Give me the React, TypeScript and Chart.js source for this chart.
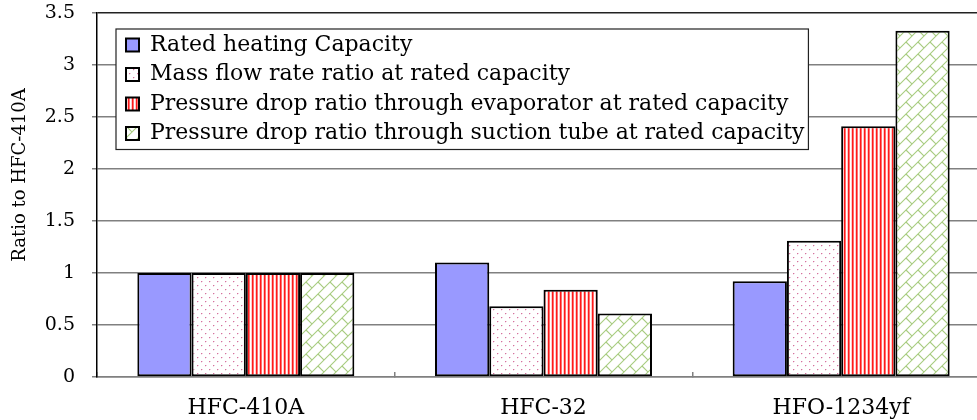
import React, { useEffect, useRef } from 'react';
import { Chart, registerables } from 'chart.js';

Chart.register(...registerables);

const categories = ['HFC-410A', 'HFC-32', 'HFO-1234yf'];
const seriesNames = [
  'Rated heating Capacity',
  'Mass flow rate ratio at rated capacity',
  'Pressure drop ratio through evaporator at rated capacity',
  'Pressure drop ratio through suction tube at rated capacity',
];
const ratedHeatingCapacity = [1.0, 1.1, 0.92];
const massFlowRatio = [1.0, 0.68, 1.31];
const evaporatorPressureDrop = [1.0, 0.84, 2.41];
const suctionTubePressureDrop = [1.0, 0.61, 3.33];
const yTicks = [0, 0.5, 1, 1.5, 2, 2.5, 3, 3.5];
const yAxisTitle = 'Ratio to HFC-410A';

const FONT = '"DejaVu Serif", serif';

function makeTile(w: number, h: number, paint: (c: CanvasRenderingContext2D) => void) {
  const cv = document.createElement('canvas');
  cv.width = w;
  cv.height = h;
  const c = cv.getContext('2d')!;
  c.fillStyle = '#ffffff';
  c.fillRect(0, 0, w, h);
  paint(c);
  return c.createPattern(cv, 'repeat')!;
}

function makePatterns() {
  const dots = makeTile(8, 8, (c) => {
    const put = (x: number, y: number, col: string) => {
      c.fillStyle = col;
      c.fillRect(x, y, 1, 1);
    };
    put(1, 1, '#d4729e');
    put(2, 1, '#f2d0df');
    put(1, 2, '#f6e0ea');
    put(5, 5, '#d4729e');
    put(6, 5, '#f2d0df');
    put(5, 6, '#f6e0ea');
  });
  const stripes = makeTile(4, 4, (c) => {
    const cols = ['#ff1a1a', '#ff7070', '#ffffff', '#ffc8c8'];
    cols.forEach((col, i) => {
      c.fillStyle = col;
      c.fillRect(i, 0, 1, 4);
    });
  });
  const brick = makeTile(12, 12, (c) => {
    c.strokeStyle = '#a8cc80';
    c.lineWidth = 1.1;
    c.beginPath();
    c.moveTo(-1, 13);
    c.lineTo(13, -1);
    c.moveTo(-1, 1);
    c.lineTo(1, -1);
    c.moveTo(11, 13);
    c.lineTo(13, 11);
    c.moveTo(6, 6);
    c.lineTo(12, 12);
    c.moveTo(-6, -6);
    c.lineTo(0, 0);
    c.stroke();
  });
  return { dots, stripes, brick };
}

const legendFramePlugin = {
  id: 'legendFrame',
  afterLayout(chart: any) {
    const lg = chart.legend;
    const ca = chart.chartArea;
    if (!lg) return;
    const lo = lg.options.labels;
    const pad = lo.padding;
    const itemH = Math.max(lo.font.size, lo.boxHeight);
    lg.left = ca.left + 29 - pad;
    lg.top = ca.top + 32 - itemH / 2 - pad;
    lg.right = ca.right;
    lg.bottom = ca.bottom;
  },
  beforeDatasetsDraw(chart: any) {
    const lg = chart.legend;
    if (!lg) return;
    const ctx = chart.ctx;
    const lo = lg.options.labels;
    const fs = lo.font.size;
    const pad = lo.padding;
    const itemH = Math.max(fs, lo.boxHeight);
    ctx.save();
    ctx.font = `${fs}px ${FONT}`;
    let maxW = 0;
    chart.data.datasets.forEach((d: any) => {
      maxW = Math.max(maxW, ctx.measureText(d.label).width);
    });
    const itemX = lg.left + pad;
    const x0 = itemX - 10;
    const x1 = itemX + lo.boxWidth + fs / 2 + maxW + 4;
    const firstC = lg.top + pad + itemH / 2;
    const n = chart.data.datasets.length;
    const lastC = firstC + (n - 1) * (itemH + pad);
    const y0 = firstC - 16;
    const y1 = lastC + 16;
    ctx.fillStyle = '#ffffff';
    ctx.fillRect(x0, y0, x1 - x0, y1 - y0);
    ctx.strokeStyle = '#222';
    ctx.lineWidth = 1.2;
    ctx.strokeRect(x0, y0, x1 - x0, y1 - y0);
    ctx.restore();
    lg.draw();
  },
};

export default function App() {
  const ref = useRef<HTMLCanvasElement>(null);
  useEffect(() => {
    document.body.style.margin = '0';
    document.body.style.overflow = 'hidden';
    const p = makePatterns();
    const fills = ['#9999ff', p.dots, p.stripes, p.brick];
    const values = [ratedHeatingCapacity, massFlowRatio, evaporatorPressureDrop, suctionTubePressureDrop];
    const chart = new Chart(ref.current!, {
      type: 'bar',
      data: {
        labels: categories,
        datasets: seriesNames.map((name, i) => ({
          label: name,
          data: values[i],
          backgroundColor: fills[i] as any,
          borderColor: '#000000',
          borderWidth: 2,
          borderSkipped: false,
          categoryPercentage: 0.729,
          barPercentage: 1,
        })),
      },
      options: {
        responsive: false,
        animation: false,
        devicePixelRatio: 1,
        layout: { padding: { top: 13, left: 0, right: 0, bottom: 0 } },
        plugins: {
          tooltip: { enabled: false },
          legend: {
            position: 'chartArea' as any,
            align: 'start',
            labels: {
              color: '#000',
              font: { family: FONT, size: 22 },
              boxWidth: 13,
              boxHeight: 13,
              padding: 7.5,
            },
          },
        },
        scales: {
          x: {
            grid: {
              display: true,
              drawOnChartArea: false,
              drawTicks: true,
              tickLength: -5,
              color: '#808080',
              lineWidth: 1.5,
            },
            border: { color: '#808080', width: 1.5 },
            ticks: { color: '#000', font: { family: FONT, size: 22 }, padding: 23 },
            afterFit: (s: any) => {
              s.height = 43;
              s.paddingLeft = 0;
              s.paddingRight = 0;
              s.paddingTop = 0;
              s.paddingBottom = 0;
            },
          },
          y: {
            min: 0,
            max: 3.5,
            afterBuildTicks: (s: any) => {
              s.ticks = yTicks.map((v) => ({ value: v }));
            },
            ticks: {
              color: '#000',
              font: { family: FONT, size: 19 },
              padding: 17,
              callback: (v: any) => String(Number(v)),
            },
            grid: {
              color: (c: any) => (c.tick && c.tick.value === 3.5 ? '#222' : '#808080'),
              lineWidth: 1.5,
              tickLength: 5,
              tickColor: '#808080',
            },
            border: { color: '#000', width: 1.5 },
            title: {
              display: true,
              text: '\u00A0\u00A0\u00A0\u00A0\u00A0\u00A0\u00A0' + yAxisTitle,
              color: '#000',
              font: { family: FONT, size: 18 },
              padding: { top: 10, bottom: 0 },
            },
            afterFit: (s: any) => {
              s.width = 97;
              s.paddingLeft = 0;
              s.paddingRight = 0;
              s.paddingTop = 0;
              s.paddingBottom = 0;
            },
          },
        },
      },
      plugins: [legendFramePlugin],
    });
    return () => chart.destroy();
  }, []);
  return (
    <div style={{ position: 'fixed', left: 0, top: 0, width: 990, height: 420 }}>
      <canvas ref={ref} width={990} height={420} />
    </div>
  );
}
